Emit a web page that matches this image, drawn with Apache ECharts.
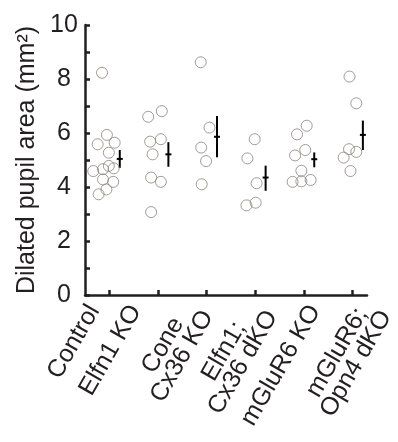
<!DOCTYPE html>
<html>
<head>
<meta charset="utf-8">
<script src="https://cdn.jsdelivr.net/npm/echarts@6/dist/echarts.min.js"></script>
<style>
  html, body { margin: 0; padding: 0; background: #fff; }
  #chart { width: 398px; height: 442px; }
</style>
</head>
<body>
<div id="chart"></div>
<script>
// groups along the x axis
const categories = ['Control', 'Elfn1 KO', 'Cone\nCx36 KO', 'Elfn1;\nCx36 dKO', 'mGluR6 KO', 'mGluR6;\nOpn4 dKO'];

// individual animals (mm²), with the horizontal jitter
const controlVals = [8.23, 5.93, 5.58, 5.64, 5.27, 4.78, 4.69, 4.66, 4.59, 4.28, 4.19, 3.91, 3.73];
const controlJit = [-0.15, -0.05, -0.24, 0.11, -0.01, -0.01, 0.09, -0.13, -0.33, -0.13, 0.08, -0.06, -0.22];
const elfnVals = [6.60, 6.81, 5.68, 5.77, 5.21, 4.35, 4.19, 3.07];
const elfnJit = [-0.20, 0.08, -0.16, 0.06, -0.11, -0.14, 0.06, -0.14];
const coneVals = [8.62, 6.20, 5.46, 4.96, 4.10];
const coneJit = [-0.12, 0.06, -0.11, -0.01, -0.10];
const elfnCxVals = [5.77, 5.06, 4.14, 3.42, 3.32];
const elfnCxJit = [-0.01, -0.16, 0.03, 0.01, -0.18];
const mglurVals = [6.27, 5.95, 5.37, 5.17, 4.60, 4.19, 4.21, 4.26];
const mglurJit = [0.06, -0.14, 0.03, -0.18, -0.05, -0.23, -0.05, 0.14];
const mglurOpnVals = [8.09, 7.10, 5.40, 5.30, 5.09, 4.59];
const mglurOpnJit = [-0.06, 0.08, -0.07, 0.08, -0.18, -0.04];

// mean and error bar ends per group
const means = [5.04, 5.21, 5.86, 4.35, 5.03, 5.93];
const errLow = [4.71, 4.75, 5.10, 3.86, 4.73, 5.37];
const errHigh = [5.37, 5.66, 6.63, 4.79, 5.28, 6.46];
const errOffset = 0.215;

const yTicks = [0, 2, 4, 6, 8, 10];
const catIdx = [0, 1, 2, 3, 4, 5];

const groups = [
  [controlVals, controlJit],
  [elfnVals, elfnJit],
  [coneVals, coneJit],
  [elfnCxVals, elfnCxJit],
  [mglurVals, mglurJit],
  [mglurOpnVals, mglurOpnJit],
];

const points = [];
groups.forEach(([vals, jit], i) => {
  vals.forEach((v, k) => points.push([i + jit[k], v]));
});

const bars = means.map((m, i) => [i + errOffset, m, errLow[i], errHigh[i]]);

const ink = '#231f20';
const font = 'Liberation Sans';

// the figure's labels were placed by hand, not under the ticks:
// second axis in page pixels, one anchor per label
const labelAnchors = [95, 137, 200, 265, 318, 380];

const chart = echarts.init(document.getElementById('chart'));

chart.setOption({
  animation: false,
  grid: [
    { left: 85, right: 31, top: 25, bottom: 147 },
    { left: 0, right: 0, top: 25, bottom: 147 },
  ],
  xAxis: [
    {
      type: 'value',
      min: -0.5,
      max: 5.3,
      splitLine: { show: false },
      axisLine: { onZero: false, lineStyle: { color: ink, width: 2.5 } },
      axisTick: {
        show: true,
        inside: true,
        length: 5,
        customValues: catIdx,
        lineStyle: { color: ink, width: 2.5 },
      },
      axisLabel: { show: false },
    },
    {
      type: 'value',
      gridIndex: 1,
      min: 0,
      max: 398,
      splitLine: { show: false },
      axisLine: { show: false },
      axisTick: { show: false },
      axisLabel: {
        customValues: labelAnchors,
        showMinLabel: true,
        showMaxLabel: true,
        hideOverlap: false,
        formatter: (v) => {
          const name = categories[labelAnchors.indexOf(v)] || '';
          return name.split('\n').map((s) => '{c|' + s + '}').join('\n');
        },
        rotate: 60,
        margin: 12,
        color: ink,
        fontFamily: font,
        fontSize: 25,
        lineHeight: 22,
        rich: { c: { align: 'center', fontFamily: font, fontSize: 25, lineHeight: 22, color: ink } },
      },
    },
  ],
  yAxis: [
    {
      type: 'value',
      min: 0,
      max: 10,
      interval: 1,
      name: 'Dilated pupil area (mm²)',
      nameLocation: 'middle',
      nameGap: 43,
      nameTextStyle: { color: ink, fontFamily: font, fontSize: 25 },
      splitLine: { show: false },
      axisLine: { show: true, onZero: false, lineStyle: { color: ink, width: 2.5 } },
      axisTick: { inside: true, length: 5, lineStyle: { color: ink, width: 2.5 } },
      axisLabel: {
        margin: 21,
        align: 'center',
        padding: [0, 0, 10, 0],
        color: ink,
        fontFamily: font,
        fontSize: 25,
        formatter: (v) => (yTicks.includes(v) ? String(v) : ''),
      },
    },
    { type: 'value', gridIndex: 1, min: 0, max: 10, show: false },
  ],
  series: [
    {
      type: 'scatter',
      data: points,
      symbol: 'circle',
      symbolSize: 11,
      itemStyle: { color: 'rgba(255,255,255,0)', borderColor: '#8b8280', borderWidth: 1 },
    },
    {
      type: 'custom',
      data: bars,
      renderItem: (params, api) => {
        const x = api.value(0);
        const top = api.coord([x, api.value(3)]);
        const bot = api.coord([x, api.value(2)]);
        const mid = api.coord([x, api.value(1)]);
        const style = { stroke: '#000', lineWidth: 2 };
        return {
          type: 'group',
          children: [
            { type: 'line', shape: { x1: top[0], y1: top[1], x2: bot[0], y2: bot[1] }, style },
            { type: 'line', shape: { x1: mid[0] - 3, y1: mid[1], x2: mid[0] + 3, y2: mid[1] }, style },
          ],
        };
      },
    },
  ],
});
</script>
</body>
</html>
